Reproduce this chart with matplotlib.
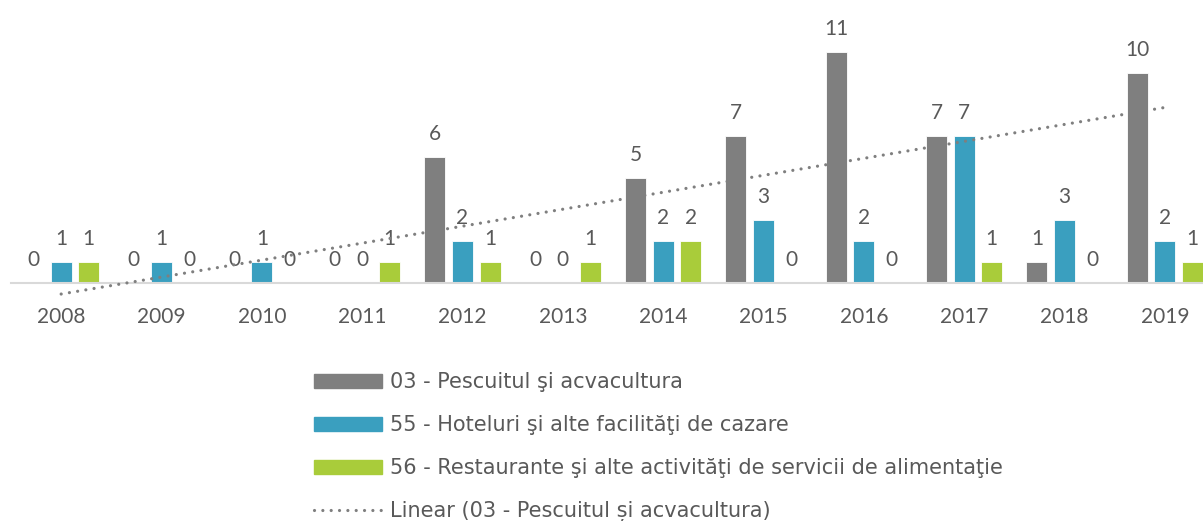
import numpy as np
import matplotlib
matplotlib.use("Agg")
from matplotlib import pyplot as plt
from matplotlib.lines import Line2D
from matplotlib.patches import Patch

plt.rcParams['font.family'] = ['Lato', 'DejaVu Sans']

years = ['2008', '2009', '2010', '2011', '2012', '2013', '2014', '2015', '2016', '2017', '2018', '2019']
pescuit = [0, 0, 0, 0, 6, 0, 5, 7, 11, 7, 1, 10]
hoteluri = [1, 1, 1, 0, 2, 0, 2, 3, 2, 7, 3, 2]
restaurante = [1, 0, 0, 1, 1, 1, 2, 0, 0, 1, 0, 1]

series_names = ['03 - Pescuitul şi acvacultura',
                '55 - Hoteluri şi alte facilităţi de cazare',
                '56 - Restaurante şi alte activităţi de servicii de alimentaţie']
trend_name = 'Linear (03 - Pescuitul și acvacultura)'
colors = ['#7f7f7f', '#3a9fbf', '#a9cc3a']
text_col = '#595959'
dots = (0, (0.01, 2.6))

fig = plt.figure(figsize=(12.03, 5.21), dpi=100)
ax = fig.add_axes([11 / 1203, 238 / 521, 1204 / 1203, 252 / 521])

x = np.arange(len(years))
width = 0.21
offsets = [-0.275, 0, 0.275]

for vals, off, col in zip([pescuit, hoteluri, restaurante], offsets, colors):
    ax.bar(x + off, vals, width=width, color=col, edgecolor='white', linewidth=0.6, zorder=2)
    for xi, v in zip(x, vals):
        ax.annotate(str(v), (xi + off, v), xytext=(0, 12), textcoords='offset points',
                    ha='center', va='baseline', fontsize=15, color=text_col,
                    annotation_clip=False)

# linear trend (Excel style, x = 1..n)
xt = np.arange(1, len(years) + 1)
k, b = np.polyfit(xt, pescuit, 1)
ax.plot(x, k * xt + b, color='#7f7f7f', linestyle=dots, linewidth=2.3,
        dash_capstyle='round', zorder=3, clip_on=False)

ax.set_xlim(-0.5, len(years) - 0.5)
ax.set_ylim(0, 12)
ax.set_xticks(x)
ax.set_xticklabels(years, fontsize=15, color=text_col)
ax.tick_params(axis='x', length=0, pad=17)
ax.set_yticks([])
for s in ['top', 'right', 'left']:
    ax.spines[s].set_visible(False)
ax.spines['bottom'].set_color('#d9d9d9')
ax.spines['bottom'].set_linewidth(1.5)
ax.patch.set_alpha(0)

handles = [Patch(color=c) for c in colors]
handles.append(Line2D([], [], color='#7f7f7f', linestyle=dots, linewidth=2.3,
                      dash_capstyle='round'))
leg = fig.legend(handles, series_names + [trend_name], loc='upper left',
                 bbox_to_anchor=(306 / 1203, 1 - 364 / 521), frameon=False,
                 prop={'family': ['DejaVu Sans'], 'size': 15},
                 handlelength=3.27, handleheight=0.7, labelspacing=1.1,
                 handletextpad=0.34, borderaxespad=0)
for t in leg.get_texts():
    t.set_color(text_col)

fig.savefig('out.png', dpi=100)
